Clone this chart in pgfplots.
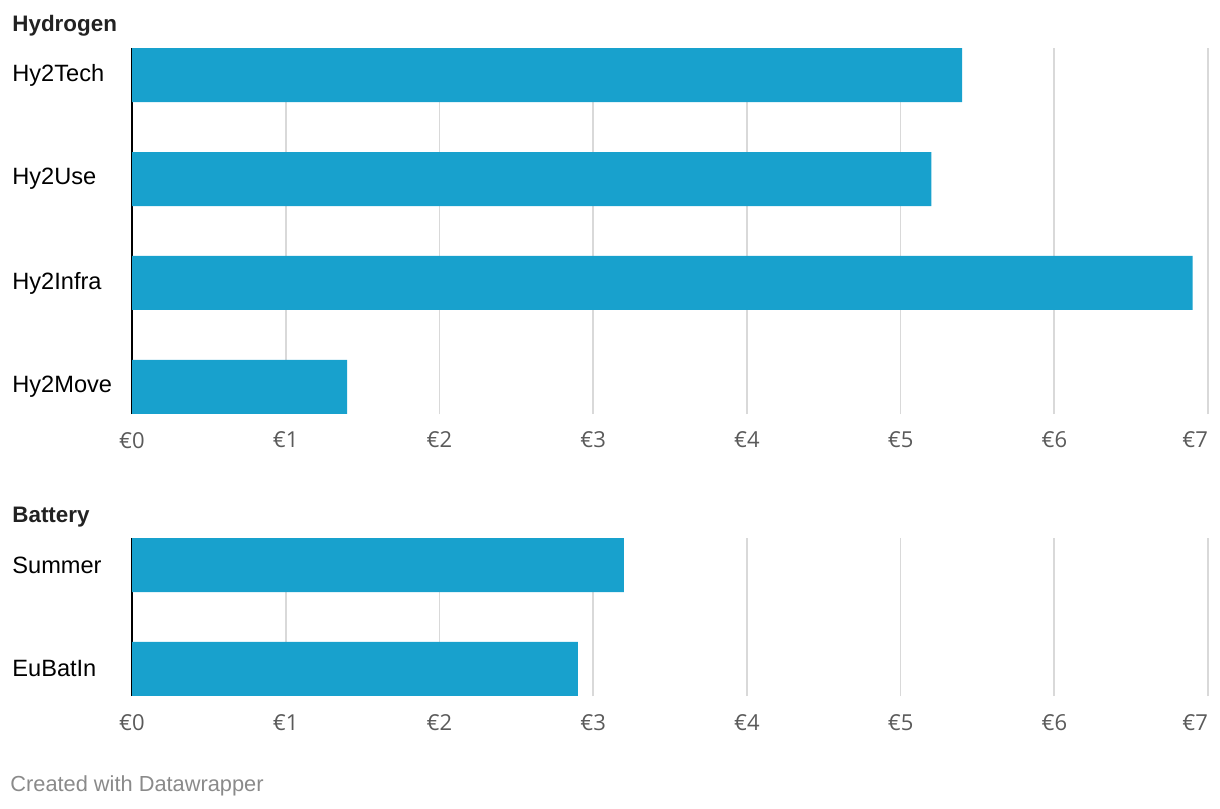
\documentclass[border=0pt]{standalone}
\usepackage{pgfplots}
\pgfplotsset{compat=1.18}
\usepackage{fontspec}
\setmainfont{Liberation Sans}
\newfontfamily\tickfont{Open Sans}
\definecolor{barblue}{HTML}{18A1CD}
\definecolor{gridgray}{HTML}{D9D9D9}
\definecolor{ticklab}{HTML}{5A5A5A}
\definecolor{footgray}{HTML}{8A8A8A}
\pgfplotsset{
  dwstyle/.style={
    scale only axis,
    width=538pt,
    xmin=0, xmax=7,
    xbar, bar width=27pt,
    axis line style={draw=none},
    separate axis lines,
    y axis line style={draw=black, line width=1pt},
    axis x line*=bottom, axis y line*=left,
    x axis line style={draw=none},
    major tick length=0pt,
    xmajorgrids, major grid style={gridgray, line width=0.8pt},
    xtick={0,1,2,3,4,5,6},
    xticklabels={€0,€1,€2,€3,€4,€5,€6},
    extra x ticks={7},
    extra x tick labels={€7},
    extra x tick style={grid=major, xticklabel style={anchor=north east, xshift=3.5pt}},
    xticklabel style={font=\tickfont\fontsize{11}{13}\selectfont, text=ticklab, yshift=-5.5pt},
    ytick=data,
    yticklabel style={anchor=west, inner sep=0pt, xshift=-60pt, font=\fontsize{11.8}{14}\selectfont, text=black},
    clip=false,
  }
}
\begin{document}
\begin{tikzpicture}
\path[use as bounding box] (0,0) rectangle (610pt,-404pt);
\node[anchor=west, inner sep=0pt, font=\bfseries\fontsize{11.2}{13}\selectfont, text={rgb,255:red,34;green,34;blue,34}] at (6pt,-13pt) {Hydrogen};
\begin{axis}[dwstyle,
  at={(66pt,-24pt)}, anchor=north west,
  height=183pt,
  ymin=-0.26, ymax=3.26,
  yticklabels={Hy2Move,Hy2Infra,Hy2Use,Hy2Tech},
]
\addplot[fill=barblue, draw=none] coordinates {(1.4,0) (6.9,1) (5.2,2) (5.4,3)};
\end{axis}
\node[anchor=west, inner sep=0pt, font=\bfseries\fontsize{11.2}{13}\selectfont, text={rgb,255:red,34;green,34;blue,34}] at (6pt,-258.5pt) {Battery};
\begin{axis}[dwstyle,
  at={(66pt,-269pt)}, anchor=north west,
  height=79pt,
  ymin=-0.26, ymax=1.26,
  yticklabels={EuBatIn,Summer},
]
\addplot[fill=barblue, draw=none] coordinates {(2.9,0) (3.2,1)};
\end{axis}
\node[anchor=west, inner sep=0pt, font=\fontsize{10.9}{13}\selectfont, text=footgray] at (5pt,-393pt) {Created with Datawrapper};
\end{tikzpicture}
\end{document}
